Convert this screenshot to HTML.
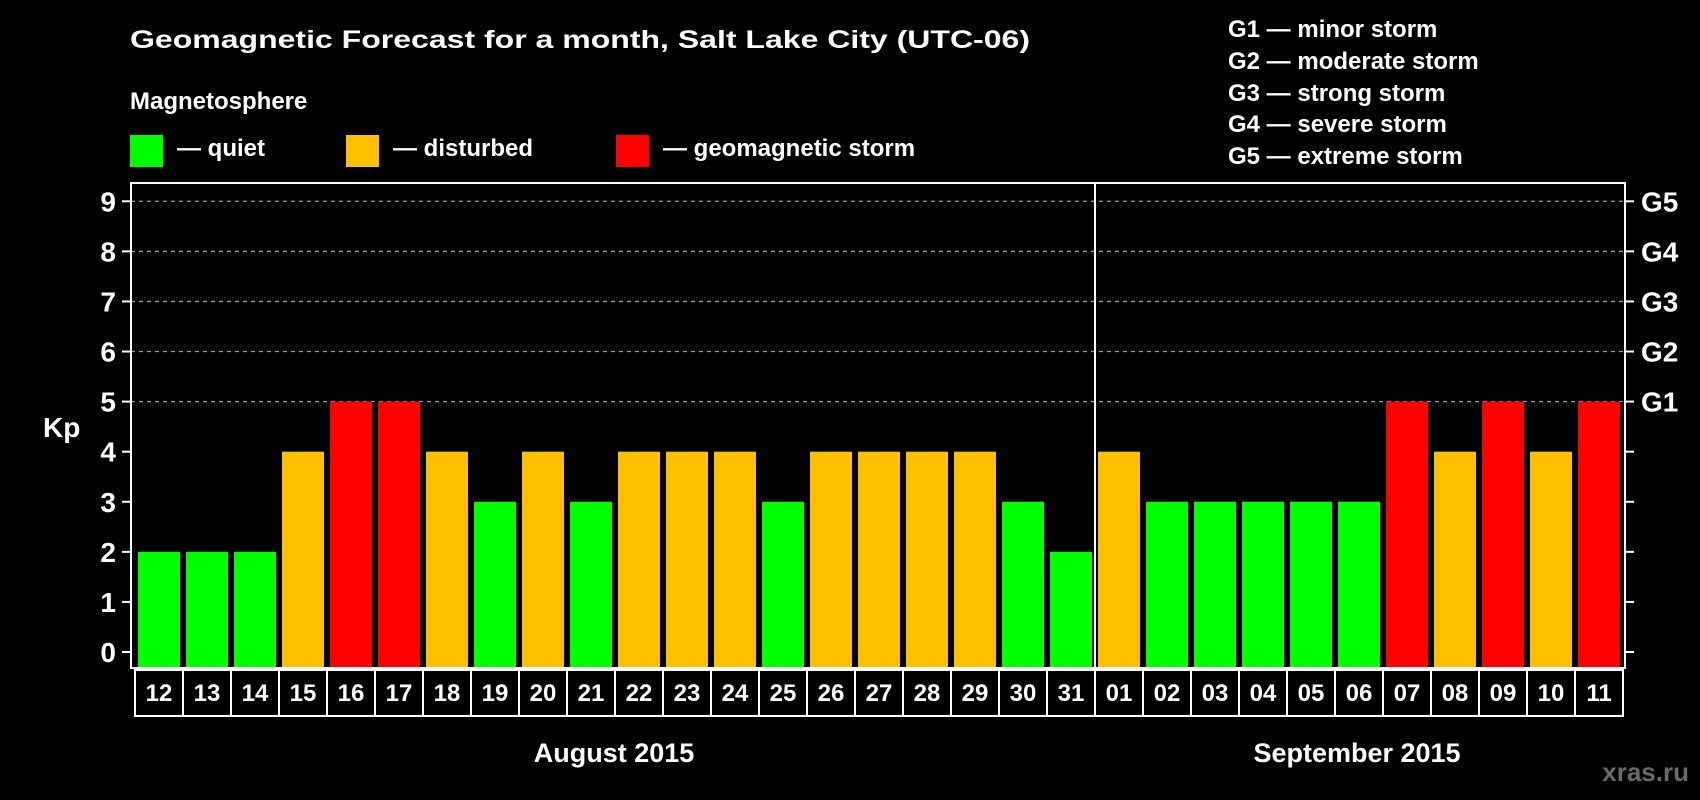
<!DOCTYPE html>
<html><head><meta charset="utf-8"><style>
html,body{margin:0;padding:0;background:#000;}
svg{display:block;font-family:"Liberation Sans",sans-serif;font-weight:bold;}
</style></head><body>
<svg id="chart" width="1700" height="800" viewBox="0 0 1700 800" xmlns="http://www.w3.org/2000/svg">
<rect width="1700" height="800" fill="#000"/>
<text x="130" y="48" fill="#fff" font-size="25" textLength="900" lengthAdjust="spacingAndGlyphs">Geomagnetic Forecast for a month, Salt Lake City (UTC-06)</text>
<text x="130" y="109" fill="#fff" font-size="24">Magnetosphere</text>
<rect x="130" y="135" width="33" height="32" fill="#00ff00"/>
<text x="177" y="156" fill="#fff" font-size="24">— quiet</text>
<rect x="346" y="135" width="33" height="32" fill="#ffc000"/>
<text x="393" y="156" fill="#fff" font-size="24">— disturbed</text>
<rect x="616" y="135" width="33" height="32" fill="#ff0000"/>
<text x="663" y="156" fill="#fff" font-size="24">— geomagnetic storm</text>
<g fill="#fff" font-size="24">
<text x="1228" y="37">G1 — minor storm</text>
<text x="1228" y="69">G2 — moderate storm</text>
<text x="1228" y="101">G3 — strong storm</text>
<text x="1228" y="132">G4 — severe storm</text>
<text x="1228" y="164">G5 — extreme storm</text>
</g>
<text x="43" y="437" fill="#fff" font-size="28">Kp</text>
<g id="plot"></g>
<text x="614" y="762" fill="#fff" font-size="27" text-anchor="middle">August 2015</text>
<text x="1357" y="762" fill="#fff" font-size="27" text-anchor="middle">September 2015</text>
<text x="1689" y="781" fill="#6a6a6a" font-size="26" text-anchor="end">xras.ru</text>
</svg>
<script>
const days = ["12","13","14","15","16","17","18","19","20","21","22","23","24","25","26","27","28","29","30","31","01","02","03","04","05","06","07","08","09","10","11"];
const kpValues = [2,2,2,4,5,5,4,3,4,3,4,4,4,3,4,4,4,4,3,2,4,3,3,3,3,3,5,4,5,4,5];
const yTicks = [0,1,2,3,4,5,6,7,8,9];
const gLabels = ["G1","G2","G3","G4","G5"];
const gLevels = [5,6,7,8,9];
const monthSplitIndex = 20;

const NS = "http://www.w3.org/2000/svg";
const plot = document.getElementById('plot');
const L = 131, R = 1625, T = 183, B = 668;
const y = v => 652 - v * 50.08;
const band = (R - L) / days.length;
const x = i => L + 7 + i * 48.0;
const colorOf = v => v >= 5 ? "#ff0000" : (v >= 4 ? "#ffc000" : "#00ff00");
function mk(tag, attrs){ const e=document.createElementNS(NS,tag); for(const k in attrs) e.setAttribute(k,attrs[k]); plot.appendChild(e); return e; }

// gridlines
gLevels.forEach(v=>{
  const g = mk('line',{x1:L,x2:R,y1:y(v),y2:y(v),stroke:"#9a9a9a","stroke-width":1.3,"stroke-dasharray":"4,4"});
  
  
});
// bars
kpValues.forEach((v,i)=>{
  const r = mk('rect',{x:x(i),y:y(v),width:42,height:B-y(v),fill:colorOf(v)});
  
  
});
// frame
const fr = mk('rect',{x:L,y:T,width:R-L,height:B-T,fill:"none",stroke:"#fff","stroke-width":2});


const dv = mk('line',{x1:x(monthSplitIndex)-3,x2:x(monthSplitIndex)-3,y1:T,y2:B,stroke:"#fff","stroke-width":2});


// ticks & labels
yTicks.forEach(v=>{
  const t1 = mk('line',{x1:L-9,x2:L,y1:y(v),y2:y(v),stroke:"#fff","stroke-width":2});
  
  
  const t2 = mk('line',{x1:R,x2:R+9,y1:y(v),y2:y(v),stroke:"#fff","stroke-width":2});
  
  
  const lb = mk('text',{x:116,y:y(v)+10,fill:"#fff","font-size":28,"text-anchor":"end"});
  lb.textContent = v;
  
  
});
gLabels.forEach((g,i)=>{
  const lb = mk('text',{x:1641,y:y(gLevels[i])+10,fill:"#fff","font-size":28});
  lb.textContent = g;
  
  
});
// day boxes
days.forEach((d,i)=>{
  const cx = 135 + i*48.0;
  const c = mk('rect',{x:cx,y:B+2,width:48,height:46,fill:"#000",stroke:"#fff","stroke-width":2});
  
  
  const t = mk('text',{x:cx+24,y:B+33,fill:"#fff","font-size":24,"text-anchor":"middle"});
  t.textContent = d;
  
  
});
</script>
</body></html>
